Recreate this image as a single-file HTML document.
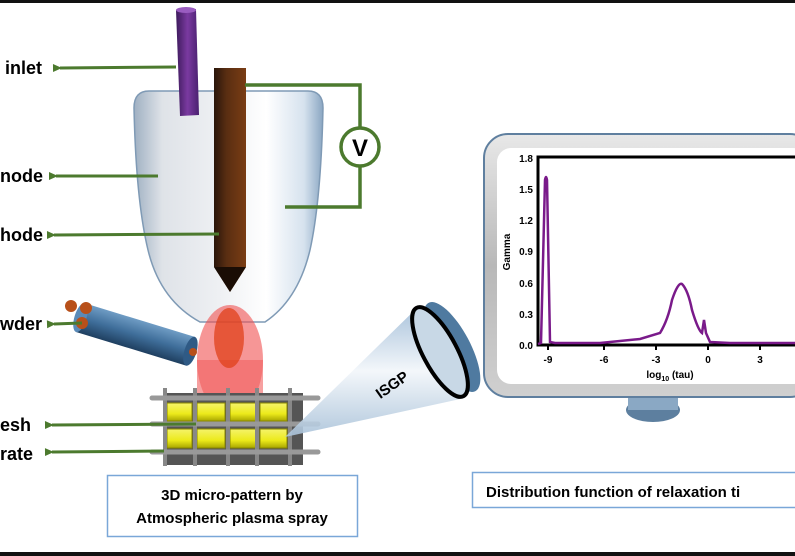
<!DOCTYPE html>
<html><head><meta charset="utf-8"><style>
html,body{margin:0;padding:0;background:#fff;}
svg{display:block;}
text{font-family:"Liberation Sans",sans-serif;font-weight:bold;}
</style></head><body>
<svg width="795" height="556" viewBox="0 0 795 556" xmlns="http://www.w3.org/2000/svg">
<defs>
<linearGradient id="cup" x1="0" x2="1" y1="0" y2="0">
<stop offset="0" stop-color="#9fb0c2"/><stop offset="0.15" stop-color="#dfe3e8"/><stop offset="0.45" stop-color="#eef0f3"/><stop offset="0.7" stop-color="#ffffff"/><stop offset="0.9" stop-color="#d6e2ee"/><stop offset="1" stop-color="#8aa6c2"/></linearGradient>
<linearGradient id="rod" x1="0" x2="1"><stop offset="0" stop-color="#2a160b"/><stop offset="0.4" stop-color="#5a2e12"/><stop offset="1" stop-color="#7a3d14"/></linearGradient>
<linearGradient id="pur" x1="0" x2="1"><stop offset="0" stop-color="#3d1a5c"/><stop offset="0.5" stop-color="#7a3aa0"/><stop offset="1" stop-color="#4a2070"/></linearGradient>
<linearGradient id="blue" x1="0" x2="0" y1="0" y2="1"><stop offset="0" stop-color="#6f9cc4"/><stop offset="0.5" stop-color="#3f6e9a"/><stop offset="1" stop-color="#1f3f60"/></linearGradient>
<linearGradient id="cone" x1="0" x2="0" y1="0" y2="1"><stop offset="0" stop-color="#9dbad6"/><stop offset="0.5" stop-color="#f2f6fa"/><stop offset="1" stop-color="#a9c2d9"/></linearGradient>
<linearGradient id="frame" x1="0" x2="0" y1="0" y2="1"><stop offset="0" stop-color="#e8e8e8"/><stop offset="0.5" stop-color="#b8b8b8"/><stop offset="1" stop-color="#d0d0d0"/></linearGradient>
<linearGradient id="yel" x1="0" x2="0" y1="0" y2="1"><stop offset="0" stop-color="#f5f36a"/><stop offset="0.6" stop-color="#ecea1a"/><stop offset="1" stop-color="#a8a600"/></linearGradient>
<marker id="ah" markerUnits="userSpaceOnUse" markerWidth="10" markerHeight="10" refX="2" refY="5" orient="auto"><path d="M9,1 L0,5 L9,9 Z" fill="#4c7a2e"/></marker>
</defs>
<rect x="0" y="0" width="795" height="3" fill="#111"/>
<rect x="0" y="552" width="795" height="4" fill="#111"/>

<!-- nozzle cup -->
<path d="M149,91 L308,91 Q323,91 323,108 Q321,200 310,250 Q298,300 265,322 L200,322 Q160,300 148,250 Q136,200 134,108 Q134,91 149,91 Z" fill="url(#cup)" stroke="#7f9ab5" stroke-width="1.5"/>
<!-- purple tube -->
<path d="M176,10 L196,9 L199,115 L180,116 Z" fill="url(#pur)"/>
<ellipse cx="186" cy="10" rx="10" ry="3" fill="#9a5cc0"/>
<!-- rod -->
<path d="M214,68 L246,68 L246,267 L230,292 L214,267 Z" fill="url(#rod)"/>
<path d="M214,267 L246,267 L230,292 Z" fill="#1a0d05"/>
<!-- plume -->
<ellipse cx="230" cy="360" rx="33" ry="55" fill="#f05050" opacity="0.6"/>
<rect x="197" y="360" width="66" height="40" fill="#f26060" opacity="0.6"/>
<ellipse cx="229" cy="338" rx="15" ry="30" fill="#e0401a" opacity="0.75"/>
<!-- wires -->
<g stroke="#4c7a2e" stroke-width="3.5" fill="none">
<path d="M245,85 L360,85 L360,127"/>
<path d="M360,167 L360,207 L285,207"/>
</g>
<circle cx="360" cy="147" r="19" fill="#fff" stroke="#4c7a2e" stroke-width="3.5"/>
<text x="360" y="156" font-size="24" text-anchor="middle">V</text>

<!-- powder tube -->
<g transform="rotate(17 134 334)">
<rect x="78" y="319" width="115" height="30" fill="url(#blue)"/>
<ellipse cx="78" cy="334" rx="6" ry="15" fill="#5a8ab8"/>
<ellipse cx="193" cy="334" rx="6" ry="15" fill="#2f5a85"/>
</g>
<circle cx="71" cy="306" r="6" fill="#b8501a"/>
<circle cx="86" cy="308" r="6" fill="#b8501a"/>
<circle cx="82" cy="323" r="6" fill="#b8501a"/>
<circle cx="193" cy="352" r="4" fill="#b8501a"/>

<!-- mesh -->
<rect x="163" y="393" width="140" height="72" fill="#555"/>
<g fill="url(#yel)" stroke="#8a8800" stroke-width="1">
<rect x="167" y="403" width="25" height="18"/><rect x="197" y="403" width="28" height="18"/><rect x="230" y="403" width="26" height="18"/><rect x="260" y="403" width="27" height="18"/>
<rect x="167" y="429" width="25" height="19"/><rect x="197" y="429" width="28" height="19"/><rect x="230" y="429" width="26" height="19"/><rect x="260" y="429" width="27" height="19"/>
</g>
<g stroke="#888" stroke-width="4">
<line x1="165" y1="388" x2="165" y2="466"/><line x1="195" y1="388" x2="195" y2="466"/><line x1="228" y1="388" x2="228" y2="466"/><line x1="257" y1="388" x2="257" y2="466"/><line x1="290" y1="388" x2="290" y2="466"/>
</g>
<g stroke="#999" stroke-width="5" stroke-linecap="round">
<line x1="152" y1="398" x2="318" y2="398"/><line x1="152" y1="424" x2="318" y2="424"/><line x1="152" y1="452" x2="318" y2="452"/>
</g>

<!-- cone -->
<path d="M285,437 L420,305 L465,398 Z" fill="url(#cone)" opacity="0.9"/>
<ellipse cx="452" cy="347" rx="18" ry="50" transform="rotate(-28 452 347)" fill="#4f7aa0"/>
<ellipse cx="440" cy="352" rx="17" ry="50" transform="rotate(-28 440 352)" fill="#c8d8e6" stroke="#000" stroke-width="4"/>
<text x="395" y="389" font-size="15" transform="rotate(-35 395 389)" text-anchor="middle">ISGP</text>

<!-- label arrows -->
<g stroke="#4c7a2e" stroke-width="3" marker-end="url(#ah)">
<line x1="176" y1="67" x2="60" y2="68"/>
<line x1="158" y1="176" x2="56" y2="176"/>
<line x1="219" y1="234" x2="54" y2="235"/>
<line x1="82" y1="323" x2="54" y2="324"/>
<line x1="196" y1="424" x2="52" y2="425"/>
<line x1="164" y1="451" x2="52" y2="452"/>
</g>
<g font-size="18">
<text x="5" y="74">inlet</text>
<text x="0" y="182">node</text>
<text x="0" y="241">hode</text>
<text x="0" y="330">wder</text>
<text x="0" y="431">esh</text>
<text x="0" y="460">rate</text>
</g>

<!-- monitor -->
<ellipse cx="653" cy="410" rx="27" ry="12" fill="#5d7f9f"/>
<rect x="628" y="398" width="50" height="12" fill="#8aa8c4"/>
<rect x="484" y="134" width="330" height="263" rx="24" fill="url(#frame)" stroke="#5f7f9f" stroke-width="2"/>
<rect x="497" y="148" width="310" height="236" rx="14" fill="#fff"/>
<rect x="538" y="157" width="262" height="188" fill="#fff" stroke="#000" stroke-width="3"/>
<g font-size="10" text-anchor="end" font-weight="bold">
<text x="533" y="162">1.8</text><text x="533" y="193">1.5</text><text x="533" y="224">1.2</text><text x="533" y="255">0.9</text><text x="533" y="287">0.6</text><text x="533" y="318">0.3</text><text x="533" y="349">0.0</text>
</g>
<g font-size="10" text-anchor="middle">
<text x="548" y="363">-9</text><text x="604" y="363">-6</text><text x="656" y="363">-3</text><text x="708" y="363">0</text><text x="760" y="363">3</text>
<text x="670" y="378">log<tspan font-size="7" dy="3">10</tspan><tspan dy="-3"> (tau)</tspan></text>
</g>
<text x="0" y="0" font-size="10" text-anchor="middle" transform="translate(510 252) rotate(-90)">Gamma</text>
<g stroke="#000" stroke-width="2"><line x1="548" y1="345" x2="548" y2="350"/><line x1="604" y1="345" x2="604" y2="350"/><line x1="656" y1="345" x2="656" y2="350"/><line x1="708" y1="345" x2="708" y2="350"/><line x1="760" y1="345" x2="760" y2="350"/></g>
<path d="M538,344 L541,343 L545,180 Q546,174 547,180 L550,342 L555,343 L600,343 L640,339 L660,333 Q668,320 672,300 Q678,282 682,284 Q688,290 692,310 Q698,330 702,333 L704,320 L706,333 L710,342 L730,343 L798,343" fill="none" stroke="#7a1a8a" stroke-width="2.5"/>

<!-- caption boxes -->
<rect x="107.5" y="475.5" width="250" height="61" fill="#fff" stroke="#7aa7d8" stroke-width="1.5"/>
<text x="232" y="500" font-size="15" text-anchor="middle">3D micro-pattern by</text>
<text x="232" y="523" font-size="15" text-anchor="middle">Atmospheric plasma spray</text>
<rect x="472.5" y="472.5" width="330" height="35" fill="#fff" stroke="#7aa7d8" stroke-width="1.5"/>
<text x="486" y="497" font-size="15">Distribution function of relaxation ti</text>
</svg>
</body></html>
